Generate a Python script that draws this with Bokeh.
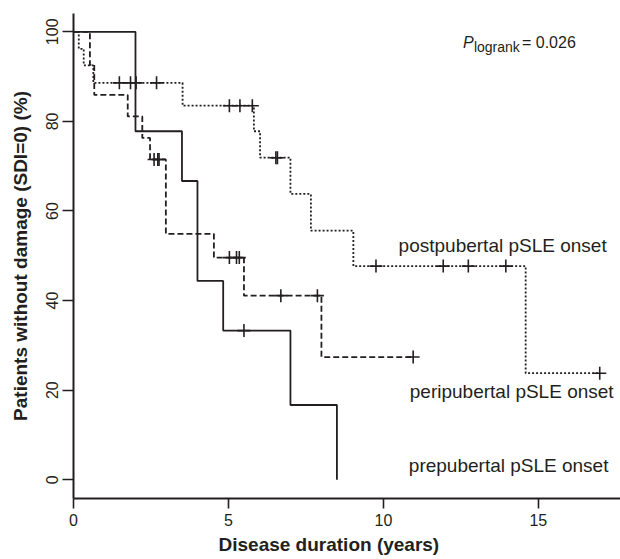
from bokeh.plotting import figure
from bokeh.models import Range1d, Label, FixedTicker, Title
from bokeh.embed import file_html
from bokeh.resources import INLINE

# ---- data ----
pre_t = [0, 2.0, 3.5, 4.0, 4.83, 7.0, 8.5]
pre_s = [100, 77.8, 66.7, 44.4, 33.3, 16.7, 0]
pre_cens_t = [5.5]
pre_cens_s = [33.3]

peri_t = [0, 0.53, 0.67, 1.75, 2.22, 2.47, 2.98, 4.53, 5.5, 8.0, 10.96]
peri_s = [100, 92.6, 85.9, 81.1, 76.3, 71.5, 54.9, 49.6, 41.1, 27.4, 27.4]
peri_cens_t = [2.6, 2.72, 2.76, 5.03, 5.26, 5.35, 6.69, 7.87, 10.96]
peri_cens_s = [71.5, 71.5, 71.5, 49.6, 49.6, 49.6, 41.1, 41.1, 27.4]

post_t = [0, 0.17, 0.33, 0.64, 3.52, 5.82, 6.02, 7.0, 7.66, 9.03, 14.59, 16.98]
post_s = [100, 96.2, 92.5, 88.6, 83.5, 77.8, 71.9, 63.8, 55.6, 47.7, 23.8, 23.8]
post_cens_t = [1.48, 1.84, 2.02, 2.68, 5.03, 5.37, 5.77, 6.53, 6.58,
               9.76, 11.93, 12.74, 13.95, 16.98]
post_cens_s = [88.6, 88.6, 88.6, 88.6, 83.5, 83.5, 83.5, 71.9, 71.9,
               47.7, 47.7, 47.7, 47.7, 23.8]

x_ticks = [0, 5, 10, 15]
y_ticks = [0, 20, 40, 60, 80, 100]

group_labels = ["postpubertal pSLE onset", "peripubertal pSLE onset", "prepubertal pSLE onset"]
p_value_text = "= 0.026"
x_title = "Disease duration (years)"
y_title = "Patients without damage (SDI=0) (%)"

INK = "#231f20"
FONT = "Liberation Sans"

p = figure(width=620, height=559, output_backend="svg", toolbar_location=None,
           x_range=Range1d(0, 17.65), y_range=Range1d(-4.17, 104.08),
           min_border_left=73, min_border_right=0, min_border_top=13, min_border_bottom=61)
p.outline_line_color = None
p.xgrid.visible = False
p.ygrid.visible = False
p.background_fill_color = "white"
p.border_fill_color = "white"

for ax in (p.xaxis, p.yaxis):
    ax.axis_line_width = 2
    ax.axis_line_color = INK
    ax.major_tick_line_color = INK
    ax.major_tick_line_width = 1.6
    ax.major_tick_in = 0
    ax.minor_tick_line_color = None
    ax.major_label_text_font = FONT
    ax.major_label_text_font_size = "16px"
    ax.major_label_text_color = INK
    ax.axis_label_text_font = FONT
    ax.axis_label_text_font_style = "bold"
    ax.axis_label_text_font_size = "19px"
    ax.axis_label_text_color = INK

p.xaxis.ticker = FixedTicker(ticks=x_ticks)
p.yaxis.ticker = FixedTicker(ticks=y_ticks)
p.xaxis.major_tick_out = 10
p.yaxis.major_tick_out = 11
p.xaxis.major_label_standoff = 5
p.yaxis.major_label_standoff = 4
p.yaxis.major_label_orientation = "vertical"

p.yaxis.axis_label = y_title
p.yaxis.axis_label_standoff = 13

# x-axis title, placed as in the reference (left of the frame centre)
p.add_layout(Title(text=x_title, align="left", offset=145, standoff=7,
                   text_font=FONT, text_font_size="19px", text_font_style="bold",
                   text_color=INK), "below")

# curves
p.step(post_t, post_s, mode="after", line_color=INK, line_width=1.8, line_dash="2 2")
p.step(peri_t, peri_s, mode="after", line_color=INK, line_width=1.8, line_dash="6 3")
p.step(pre_t, pre_s, mode="after", line_color=INK, line_width=1.8)

# censoring marks
for ct, cs in ((post_cens_t, post_cens_s), (peri_cens_t, peri_cens_s), (pre_cens_t, pre_cens_s)):
    p.scatter(ct, cs, marker="cross", size=13, line_color=INK, line_width=1.6)

# group labels
for txt, lx, ly in zip(group_labels, [10.49, 10.85, 10.82], [52.4, 19.8, 3.2]):
    p.add_layout(Label(x=lx, y=ly, text=txt, text_font=FONT, text_font_size="19px",
                       text_color=INK, text_baseline="alphabetic", text_align="left"))

# P logrank
p.add_layout(Label(x=12.57, y=97.6, text="P", text_font=FONT, text_font_size="16px",
                   text_font_style="italic", text_color=INK, text_baseline="alphabetic"))
p.add_layout(Label(x=12.92, y=96.7, text="logrank", text_font=FONT, text_font_size="14px",
                   text_color=INK, text_baseline="alphabetic"))
p.add_layout(Label(x=14.47, y=97.6, text=p_value_text, text_font=FONT, text_font_size="16px",
                   text_color=INK, text_baseline="alphabetic"))

open("out.html", "w").write(file_html(p, INLINE))
